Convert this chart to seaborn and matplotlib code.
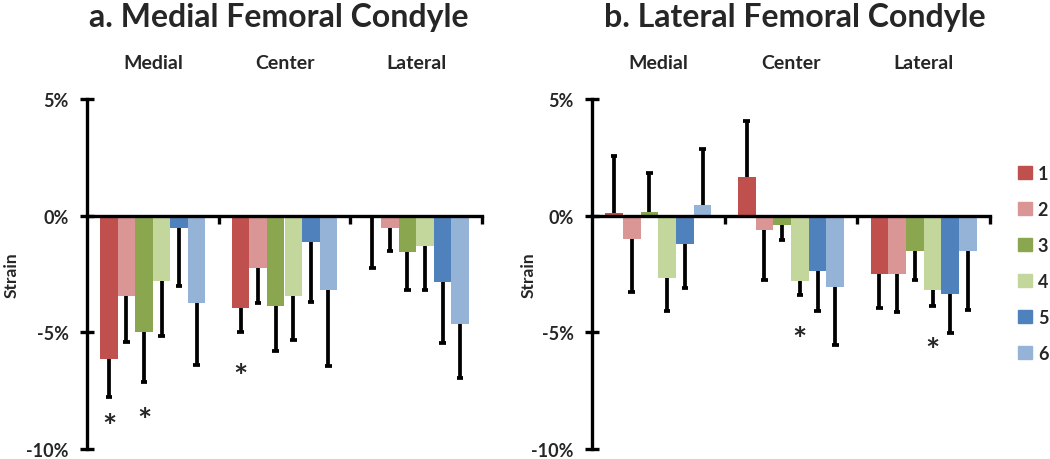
import numpy as np
import pandas as pd
import matplotlib
matplotlib.use('Agg')
import matplotlib.pyplot as plt
import matplotlib.transforms as mtransforms
import seaborn as sns

# regions along each condyle and the six series
groups = ['Medial', 'Center', 'Lateral']
series = ['1', '2', '3', '4', '5', '6']
colors = ['#C0504D', '#D99694', '#8AA64F', '#C3D69B', '#4F81BD', '#95B3D7']

# a. Medial femoral condyle (strain, %)
mfc_medial = [-6.13, -3.45, -5.00, -2.79, -0.52, -3.73]
mfc_center = [-3.94, -2.25, -3.85, -3.45, -1.13, -3.20]
mfc_lateral = [-0.05, -0.52, -1.55, -1.30, -2.85, -4.65]
mfc_medial_err = [1.66, 1.97, 2.14, 2.38, 2.51, 2.65]
mfc_center_err = [1.06, 1.51, 1.95, 1.86, 2.57, 3.25]
mfc_lateral_err = [2.18, 1.00, 1.65, 1.90, 2.61, 2.32]

# b. Lateral femoral condyle (strain, %)
lfc_medial = [0.10, -1.01, 0.14, -2.65, -1.23, 0.45]
lfc_center = [1.65, -0.61, -0.42, -2.79, -2.35, -3.04]
lfc_lateral = [-2.49, -2.49, -1.52, -3.20, -3.35, -1.52]
lfc_medial_err = [2.46, 2.27, 1.69, 1.43, 1.87, 2.41]
lfc_center_err = [2.41, 2.16, 0.64, 0.62, 1.73, 2.52]
lfc_lateral_err = [1.48, 1.64, 1.23, 0.65, 1.69, 2.52]

# significance markers
mfc_star_group = ['Medial', 'Medial', 'Center']
mfc_star_series = ['1', '3', '1']
mfc_star_y = [-8.73, -8.48, -6.6]
lfc_star_group = ['Center', 'Lateral']
lfc_star_series = ['4', '4']
lfc_star_y = [-5.0, -5.49]

y_ticks = [-10, -5, 0, 5]
y_tick_labels = ['-10%', '-5%', '0%', '5%']

sns.set_style('white')
plt.rcParams['font.family'] = ['Lato', 'DejaVu Sans']
plt.rcParams['font.weight'] = 'bold'

fig = plt.figure(figsize=(10.5, 4.6), dpi=100)
ax_a = fig.add_axes([87 / 1050, 1 - 450 / 460, 395 / 1050, 350 / 460])
ax_b = fig.add_axes([592 / 1050, 1 - 450 / 460, 398 / 1050, 350 / 460])


def draw_panel(ax, means, errs, star_group, star_series, star_y, label_x):
    df = pd.DataFrame({
        'region': np.repeat(groups, len(series)),
        'series': series * len(groups),
        'strain': np.concatenate(means),
        'err': np.concatenate(errs),
    })
    sns.barplot(data=df, x='region', y='strain', hue='series', palette=colors,
                errorbar=None, width=0.8, saturation=1, ax=ax, linewidth=0)

    # one-sided error bars, away from zero
    centers = {}
    for s, cont in zip(series, ax.containers):
        for g, bar in zip(groups, cont):
            row = df[(df.region == g) & (df.series == s)].iloc[0]
            x = bar.get_x() + bar.get_width() / 2
            centers[(g, s)] = x
            v = row.strain
            end = v + row.err if v >= 0 else v - row.err
            ax.vlines(x, v, end, color='black', lw=2.7, zorder=3)
            ax.hlines(end, x - 0.025, x + 0.025, color='black', lw=2.7, zorder=3)

    # asterisk glyph sits high in its box, nudge it down a little
    star_tr = ax.transData + mtransforms.ScaledTranslation(0, -8 / 100, fig.dpi_scale_trans)
    for g, s, y in zip(star_group, star_series, star_y):
        ax.text(centers[(g, s)], y, '*', ha='center', va='center',
                fontsize=24, fontweight='bold', transform=star_tr)

    ax.set_xlim(-0.5, 2.5)
    ax.set_ylim(-10, 5)
    ax.set_yticks(y_ticks)
    ax.set_yticklabels(y_tick_labels)
    ax.set_ylabel('Strain', fontsize=12.5, fontweight='bold')
    ax.yaxis.set_label_coords(label_x, 0.5)
    ax.set_xlabel('')

    ax.spines['top'].set_visible(False)
    ax.spines['right'].set_visible(False)
    ax.spines['bottom'].set_position(('data', 0))
    for side in ['left', 'bottom']:
        ax.spines[side].set_linewidth(2.4)
        ax.spines[side].set_color('black')

    ax.set_xticks([0, 1, 2])
    ax.set_xticks([0.5, 1.5, 2.5], minor=True)
    ax.tick_params(axis='x', which='major', length=0, top=False, bottom=False,
                   labeltop=True, labelbottom=False, labelsize=14, pad=20)
    ax.tick_params(axis='x', which='minor', bottom=True, length=6, width=2.4,
                   direction='out', color='black')
    ax.tick_params(axis='y', which='major', left=True, length=10, width=2.4,
                   direction='inout', labelsize=13, pad=8, color='black')
    for lab in ax.get_xticklabels() + ax.get_yticklabels():
        lab.set_fontweight('bold')
    ax.get_legend().remove()


draw_panel(ax_a, [mfc_medial, mfc_center, mfc_lateral],
           [mfc_medial_err, mfc_center_err, mfc_lateral_err],
           mfc_star_group, mfc_star_series, mfc_star_y, (20 - 87) / 395)
draw_panel(ax_b, [lfc_medial, lfc_center, lfc_lateral],
           [lfc_medial_err, lfc_center_err, lfc_lateral_err],
           lfc_star_group, lfc_star_series, lfc_star_y, (537 - 592) / 398)

fig.text(279 / 1050, 1 - 17 / 460, 'a. Medial Femoral Condyle', ha='center',
         va='center', fontsize=23, fontweight='bold')
fig.text(795 / 1050, 1 - 17 / 460, 'b. Lateral Femoral Condyle', ha='center',
         va='center', fontsize=23, fontweight='bold')

handles = [plt.Rectangle((0, 0), 1, 1, color=c) for c in colors]
fig.legend(handles, series, loc='upper left', bbox_to_anchor=(1018 / 1050, 1 - 166 / 460),
           frameon=False, prop={'weight': 'bold', 'size': 13},
           handlelength=0.75, handleheight=0.75, handletextpad=0.35,
           labelspacing=1.05, borderpad=0, borderaxespad=0)

fig.savefig('out.png', dpi=100)
